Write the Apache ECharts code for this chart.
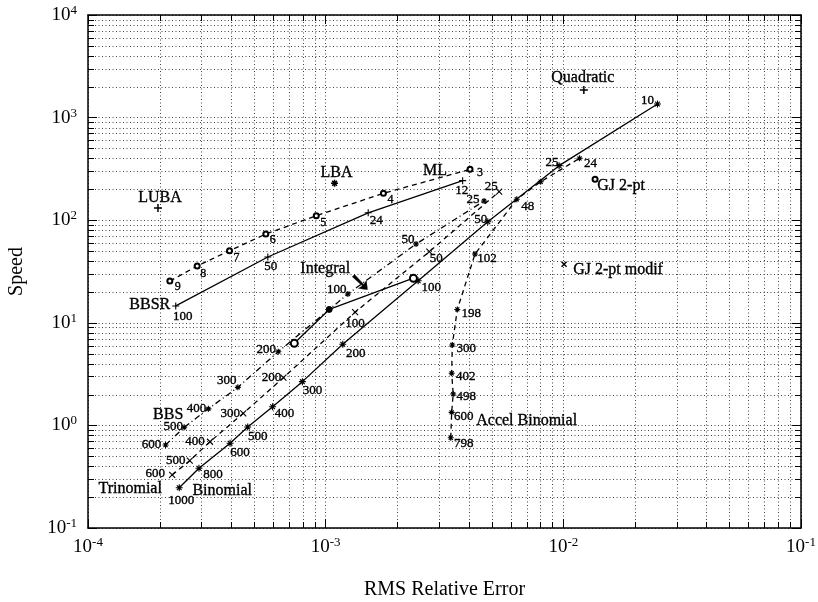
<!DOCTYPE html>
<html>
<head>
<meta charset="utf-8">
<script src="https://cdn.jsdelivr.net/npm/echarts@6.0.0/dist/echarts.min.js"></script>
<style>html,body{margin:0;padding:0;background:#fff}#c{width:818px;height:602px}</style>
</head>
<body>
<div id="c"></div>
<script>
// ---------------- data ----------------
const bbsrLabels = ['100', '50', '24', '12'];
const bbsrErr = [2.34e-4, 5.71e-4, 1.51e-3, 3.77e-3];
const bbsrSpeed = [14.6, 43.8, 118, 243];

const mlLabels = ['9', '8', '7', '6', '5', '4', '3'];
const mlErr = [2.21e-4, 2.88e-4, 3.94e-4, 5.60e-4, 9.13e-4, 1.75e-3, 4.05e-3];
const mlSpeed = [25.5, 35.8, 50.4, 73.3, 110.6, 183, 313];

const binLabels = ['1000', '800', '600', '500', '400', '300', '200', '100', '50', '25', '10'];
const binErr = [2.42e-4, 2.93e-4, 3.96e-4, 4.70e-4, 5.98e-4, 7.98e-4, 1.18e-3, 2.45e-3, 4.81e-3, 9.6e-3, 2.49e-2];
const binSpeed = [0.247, 0.382, 0.669, 0.964, 1.52, 2.67, 6.17, 25.7, 96.7, 340, 1357];

const triLabels = ['600', '500', '400', '300', '200', '100', '50', '25'];
const triErr = [2.26e-4, 2.68e-4, 3.26e-4, 4.50e-4, 6.64e-4, 1.33e-3, 2.73e-3, 5.37e-3];
const triSpeed = [0.329, 0.453, 0.693, 1.31, 2.92, 12.7, 49.3, 190];

const bbsLabels = ['600', '500', '400', '300', '200', '100', '50', '25'];
const bbsErr = [2.12e-4, 2.54e-4, 3.21e-4, 4.27e-4, 6.32e-4, 1.24e-3, 2.40e-3, 4.64e-3];
const bbsSpeed = [0.644, 0.958, 1.45, 2.35, 5.23, 19.1, 58.6, 154];

const accLabels = ['798', '600', '498', '402', '300', '198', '102', '48', '', '24'];
const accErr = [3.36e-3, 3.39e-3, 3.44e-3, 3.39e-3, 3.41e-3, 3.58e-3, 4.25e-3, 6.37e-3, 8.03e-3, 1.17e-2];
const accSpeed = [0.758, 1.34, 2.02, 3.22, 6.08, 13.5, 46.8, 160, 237, 401];

const intErr = [7.38e-4, 1.035e-3, 2.34e-3];
const intSpeed = [6.31, 13.5, 27.2];

const singleNames = ['LUBA', 'LBA', 'Quadratic', 'GJ 2-pt', 'GJ 2-pt modif'];
const singleErr = [1.97e-4, 1.09e-3, 1.22e-2, 1.36e-2, 1.007e-2];
const singleSpeed = [131.5, 229, 1858, 250, 37.2];

// ---------------- label placement (pixel offsets, styles) ----------------
const bbsrOff = [[7, 11], [3, 10], [8, 8], [-1, 10]];
const mlOff = [[8, 6], [6, 8], [7, 7], [7, 6], [7, 7], [7, 7], [10, 3]];
const binOff = [[2, 13], [14, 6], [10, 9], [10, 10], [12, 7], [10, 9], [13, 9], [13, 7], [-7, -2], [-7, -3], [-10, -3]];
const triOff = [[-17, -1], [-14, 0], [-15, 0], [-13, 0], [-12, 0], [0, 11], [7, 7], [-8, -5]];
const bbsOff = [[-14, 0], [-11, -1], [-12, 0], [-11, -7], [-12, -2], [-11, -4], [-8, -4], [-11, -1]];
const accOff = [[13, 6], [12, 4], [13, 3], [14, 3], [14, 4], [14, 4], [12, 5], [11, 7], [0, 0], [11, 5]];
const singleOff = [[2, -10], [2, -10], [-1, -12], [26, 6], [54, 6]];

const FONT = 'Liberation Serif';
const PLUS = 'path://M0,5L10,5M5,0L5,10';
const CROSS = 'path://M0,0L10,10M10,0L0,10';
const STAR = 'path://M5,0L5,10M0,5L10,5M1.6,1.6L8.4,8.4M8.4,1.6L1.6,8.4';

function txt(fs, extra) {
  return Object.assign({
    show: true, position: 'inside', fontFamily: FONT, fontSize: fs, color: '#000',
    textBorderColor: '#000', textBorderWidth: 0.35, opacity: 1
  }, extra || {});
}

function pts(errs, speeds, labels, offs, fs) {
  return errs.map((e, i) => ({
    value: [e, speeds[i]],
    label: txt(fs, { show: labels[i] !== '', formatter: labels[i], offset: offs[i] })
  }));
}
function lineSeries(name, data, symbol, size, dash, bw) {
  return {
    name, type: 'line', data, symbol, symbolSize: size, showSymbol: true, z: 3,
    lineStyle: { color: '#000', width: 1.3, type: dash },
    itemStyle: { color: '#000', borderColor: '#000', borderWidth: bw || 1.1, opacity: 1 },
    emphasis: { disabled: true }, silent: true
  };
}

// minor grid values (2..9 x 10^k)
const minorX = [], minorY = [];
for (let e = -4; e < -1; e++) for (let m = 2; m <= 9; m++) minorX.push([m * Math.pow(10, e), 1]);
for (let e = -1; e < 4; e++) for (let m = 2; m <= 9; m++) minorY.push([1e-3, m * Math.pow(10, e)]);

const gridStyle = { stroke: '#444', lineWidth: 1, lineDash: [1, 2.5] };
const tickStyle = { stroke: '#000', lineWidth: 1 };
const TL = 6;

function expLabel(v) {
  const e = Math.round(Math.log10(v));
  return '{b|10}{s|' + e + '}';
}
const rich = {
  b: { fontFamily: FONT, fontSize: 19, color: '#000' },
  s: { fontFamily: FONT, fontSize: 13, color: '#000', padding: [0, 0, 9, 0] }
};

const annotations = [
  { value: [bbsrErr[0], bbsrSpeed[0]], text: 'BBSR', off: [-26, -1], fs: 16 },
  { value: [mlErr[6], mlSpeed[6]], text: 'ML', off: [-35, 1], fs: 16 },
  { value: [bbsErr[1], bbsSpeed[1]], text: 'BBS', off: [-16, -13], fs: 16 },
  { value: [triErr[0], triSpeed[0]], text: 'Trinomial', off: [-42, 14], fs: 16 },
  { value: [binErr[0], binSpeed[0]], text: 'Binomial', off: [43, 3], fs: 16 },
  { value: [accErr[1], accSpeed[1]], text: 'Accel Binomial', off: [75, 8], fs: 16 },
  { value: [intErr[1], intSpeed[1]], text: 'Integral', off: [-4, -41], fs: 16 },
  { value: [intErr[1], intSpeed[1]], text: '\u2798', off: [31, -25], fs: 27, ff: 'DejaVu Sans' }
].map(a => ({
  value: a.value,
  label: txt(a.fs, { formatter: a.text, offset: a.off, fontFamily: a.ff || FONT })
}));

const singleSymbols = [PLUS, STAR, PLUS, 'emptyCircle', CROSS];
const singleSizes = [8, 7, 8, 5, 5];

const axisBase = {
  type: 'log', logBase: 10,
  axisLine: { lineStyle: { color: '#000', width: 1.5 } },
  axisTick: { inside: true, length: 9, lineStyle: { color: '#000' } }
};

const option = {
  animation: false,
  backgroundColor: '#fff',
  grid: { left: 88, right: 17, top: 15, bottom: 74, containLabel: false, outerBoundsMode: 'none' },
  xAxis: [
    Object.assign({}, axisBase, {
      min: 1e-4, max: 1e-1, position: 'bottom',
      name: 'RMS Relative Error', nameLocation: 'middle', nameGap: 52,
      nameTextStyle: { fontFamily: FONT, fontSize: 20, color: '#000' },
      axisLabel: { formatter: expLabel, rich, margin: 8 },
      splitLine: { show: true, lineStyle: { color: '#444', type: [1, 2.5] } }
    }),
    Object.assign({}, axisBase, {
      min: 1e-4, max: 1e-1, position: 'top',
      axisLabel: { show: false }, splitLine: { show: false }
    })
  ],
  yAxis: [
    Object.assign({}, axisBase, {
      min: 0.1, max: 1e4, position: 'left',
      name: 'Speed', nameLocation: 'middle', nameGap: 61,
      nameTextStyle: { fontFamily: FONT, fontSize: 20, color: '#000' },
      axisLabel: { formatter: expLabel, rich, margin: 11 },
      splitLine: { show: true, lineStyle: { color: '#444', type: [1, 2.5] } }
    }),
    Object.assign({}, axisBase, {
      min: 0.1, max: 1e4, position: 'right',
      axisLabel: { show: false }, splitLine: { show: false }
    })
  ],
  series: [
    {
      type: 'custom', silent: true, z: 1, data: minorX,
      renderItem: (params, api) => {
        const p = api.coord([api.value(0), api.value(1)]);
        const cs = params.coordSys;
        const x = Math.round(p[0]) + 0.5;
        return { type: 'group', children: [
          { type: 'line', shape: { x1: x, y1: cs.y, x2: x, y2: cs.y + cs.height }, style: gridStyle },
          { type: 'line', shape: { x1: x, y1: cs.y + cs.height, x2: x, y2: cs.y + cs.height - TL }, style: tickStyle },
          { type: 'line', shape: { x1: x, y1: cs.y, x2: x, y2: cs.y + TL }, style: tickStyle }
        ] };
      }
    },
    {
      type: 'custom', silent: true, z: 1, data: minorY,
      renderItem: (params, api) => {
        const p = api.coord([api.value(0), api.value(1)]);
        const cs = params.coordSys;
        const y = Math.round(p[1]) + 0.5;
        return { type: 'group', children: [
          { type: 'line', shape: { x1: cs.x, y1: y, x2: cs.x + cs.width, y2: y }, style: gridStyle },
          { type: 'line', shape: { x1: cs.x, y1: y, x2: cs.x + TL, y2: y }, style: tickStyle },
          { type: 'line', shape: { x1: cs.x + cs.width, y1: y, x2: cs.x + cs.width - TL, y2: y }, style: tickStyle }
        ] };
      }
    },
    lineSeries('BBSR', pts(bbsrErr, bbsrSpeed, bbsrLabels, bbsrOff, 13), PLUS, 7, 'solid'),
    lineSeries('ML', pts(mlErr, mlSpeed, mlLabels, mlOff, 12), 'emptyCircle', 5, [5, 4], 1),
    lineSeries('Binomial', pts(binErr, binSpeed, binLabels, binOff, 13), STAR, 7, 'solid'),
    lineSeries('Trinomial', pts(triErr, triSpeed, triLabels, triOff, 13), CROSS, 6, [5, 4]),
    lineSeries('BBS', pts(bbsErr, bbsSpeed, bbsLabels, bbsOff, 13), STAR, 6, [6, 3, 1, 3]),
    lineSeries('Accel Binomial', pts(accErr, accSpeed, accLabels, accOff, 13), STAR, 6, [5, 4]),
    lineSeries('Integral', intErr.map((e, i) => ({
      value: [e, intSpeed[i]],
      symbol: i === 1 ? 'circle' : 'emptyCircle',
      symbolSize: i === 1 ? 6 : 7
    })), 'emptyCircle', 7, 'solid', 1),
    {
      type: 'scatter', z: 3, silent: true,
      data: singleErr.map((e, i) => ({
        value: [e, singleSpeed[i]], symbol: singleSymbols[i], symbolSize: singleSizes[i],
        label: txt(16, { formatter: singleNames[i], offset: singleOff[i] })
      })),
      itemStyle: { color: '#000', borderColor: '#000', borderWidth: 1.5, opacity: 1 }
    },
    {
      type: 'scatter', z: 4, silent: true, symbol: 'circle', symbolSize: 1,
      itemStyle: { color: 'rgba(0,0,0,0)' },
      data: annotations
    }
  ]
};

const chart = echarts.init(document.getElementById('c'), null, { renderer: 'canvas' });
chart.setOption(option);
</script>
</body>
</html>
